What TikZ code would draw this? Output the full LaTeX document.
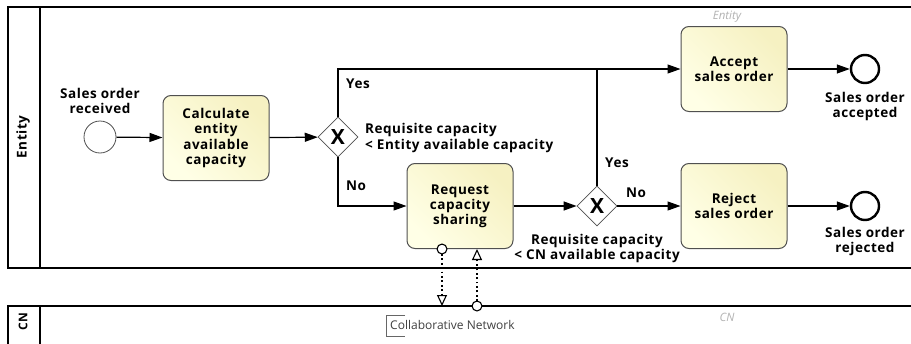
\documentclass[tikz,border=0pt]{standalone}
\usepackage{fontspec}
\setmainfont{Open Sans}[LetterSpace=4]
\newfontfamily\plainsans{Open Sans}
\usetikzlibrary{arrows.meta,shapes.geometric,calc}
\definecolor{taskA}{HTML}{FFFFE6}
\definecolor{taskB}{HTML}{F6F1C2}
\definecolor{taskborder}{HTML}{505050}
\tikzset{
  lbl/.style={font=\bfseries\fontsize{13.5}{15.2}\selectfont, align=center, inner sep=0pt},
  task/.style={rectangle, rounded corners=8pt, draw=taskborder, line width=1pt,
    left color=taskA, right color=taskB, shading angle=135,
    minimum width=106pt, minimum height=85pt, align=center,
    font=\bfseries\fontsize{13.5}{15.2}\selectfont, inner sep=2pt},
  gw/.style={diamond, draw=taskborder, line width=0.8pt, fill=white, minimum width=40pt,
    minimum height=40pt, inner sep=0pt, font=\bfseries\fontsize{21}{21}\selectfont},
  startev/.style={circle, draw=taskborder, line width=0.8pt, fill=white, minimum size=32pt, inner sep=0pt},
  endev/.style={circle, draw=black, line width=2.4pt, fill=white, minimum size=28pt, inner sep=0pt},
  flow/.style={line width=1.2pt, -{Triangle[length=13pt,width=9pt]}},
  plainflow/.style={line width=1.2pt},
  msg/.style={line width=1.6pt, dash pattern=on 1.8pt off 2.6pt, shorten <=-5.5pt,
    {Circle[open,length=11pt,width=11pt,line width=1.1pt,fill=white]}-{Triangle[open,length=11pt,width=10pt,line width=1.1pt,fill=white]}},
  pool/.style={draw=black, line width=1.2pt},
  grayital/.style={font=\plainsans\itshape\fontsize{11.5}{12}\selectfont, text=black!30, inner sep=0pt},
}
\begin{document}
\begin{tikzpicture}[x=1pt,y=-1pt]
\useasboundingbox (0,0) rectangle (911,343);
\fill[white] (0,0) rectangle (911,343);
% pools
\draw[pool] (915,7) -- (8,7) -- (8,268) -- (915,268);
\draw[pool] (40,7) -- (40,268);
\draw[pool] (915,306) -- (8,306) -- (8,350);
\draw[pool] (40,306) -- (40,350);
\node[lbl, rotate=90] (entityhdr) at (23,137) {Entity};
\node[lbl, rotate=90, font=\bfseries\fontsize{12}{12}\selectfont] (cnhdr) at (23,322) {CN};
\node[grayital] (entitywm) at (727,17) {Entity};
\node[grayital] (cnwm) at (727,317) {CN};
% nodes
\node[startev] (start) at (100,137) {};
\node[lbl, anchor=south] (startlbl) at (100,114) {Sales order\\received};
\node[task] (calc) at (216,138) {Calculate\\entity\\available\\capacity};
\node[gw] (g1) at (338,137) {X};
\node[task] (req) at (460,206) {Request\\capacity\\sharing};
\node[gw] (g2) at (597,206) {X};
\node[task] (acc) at (734,69) {Accept\\sales order};
\node[task] (rej) at (734,206) {Reject\\sales order};
\node[endev] (eacc) at (865,69) {};
\node[endev] (erej) at (865,206) {};
\node[lbl, anchor=north] (eacclbl) at (865,92) {Sales order\\accepted};
\node[lbl, anchor=north] (ereglbl) at (865,227) {Sales order\\rejected};
% labels
\node[lbl, anchor=west] (yes1) at (346,84) {Yes};
\node[lbl, anchor=west] (no1) at (346,186) {No};
\node[lbl, anchor=west, align=left] (cond1) at (365,138) {Requisite capacity\\< Entity available capacity};
\node[lbl, anchor=west] (yes2) at (605,163) {Yes};
\node[lbl, anchor=west] (no2) at (626,193) {No};
\node[lbl, anchor=north] (cond2) at (597,234) {Requisite capacity\\< CN available capacity};
% flows
\draw[flow] (start) -- (calc);
\draw[flow] (calc) -- (g1);
\draw[flow] (g1.north) |- (acc.west);
\draw[flow] (g1.south) |- (req.west);
\draw[flow] (req) -- (g2);
\draw[flow] (g2) -- (rej);
\draw[plainflow] (g2.north) -- (g2.north |- acc.west);
\draw[flow] (acc) -- (eacc);
\draw[flow] (rej) -- (erej);
% message flows
\coordinate (cn1) at (442,306);
\coordinate (cn2) at (477,306);
\draw[msg] (req.south -| cn1) -- (cn1);
\draw[msg] (cn2) -- (req.south -| cn2);
% annotation
\draw[line width=0.8pt, draw=black!60] (405,315) -- (386,315) -- (386,336) -- (405,336);
\node[font=\plainsans\fontsize{12}{12}\selectfont, text=black!75, anchor=west, inner sep=0pt] (annot) at (390,325) {Collaborative Network};
\end{tikzpicture}
\end{document}
